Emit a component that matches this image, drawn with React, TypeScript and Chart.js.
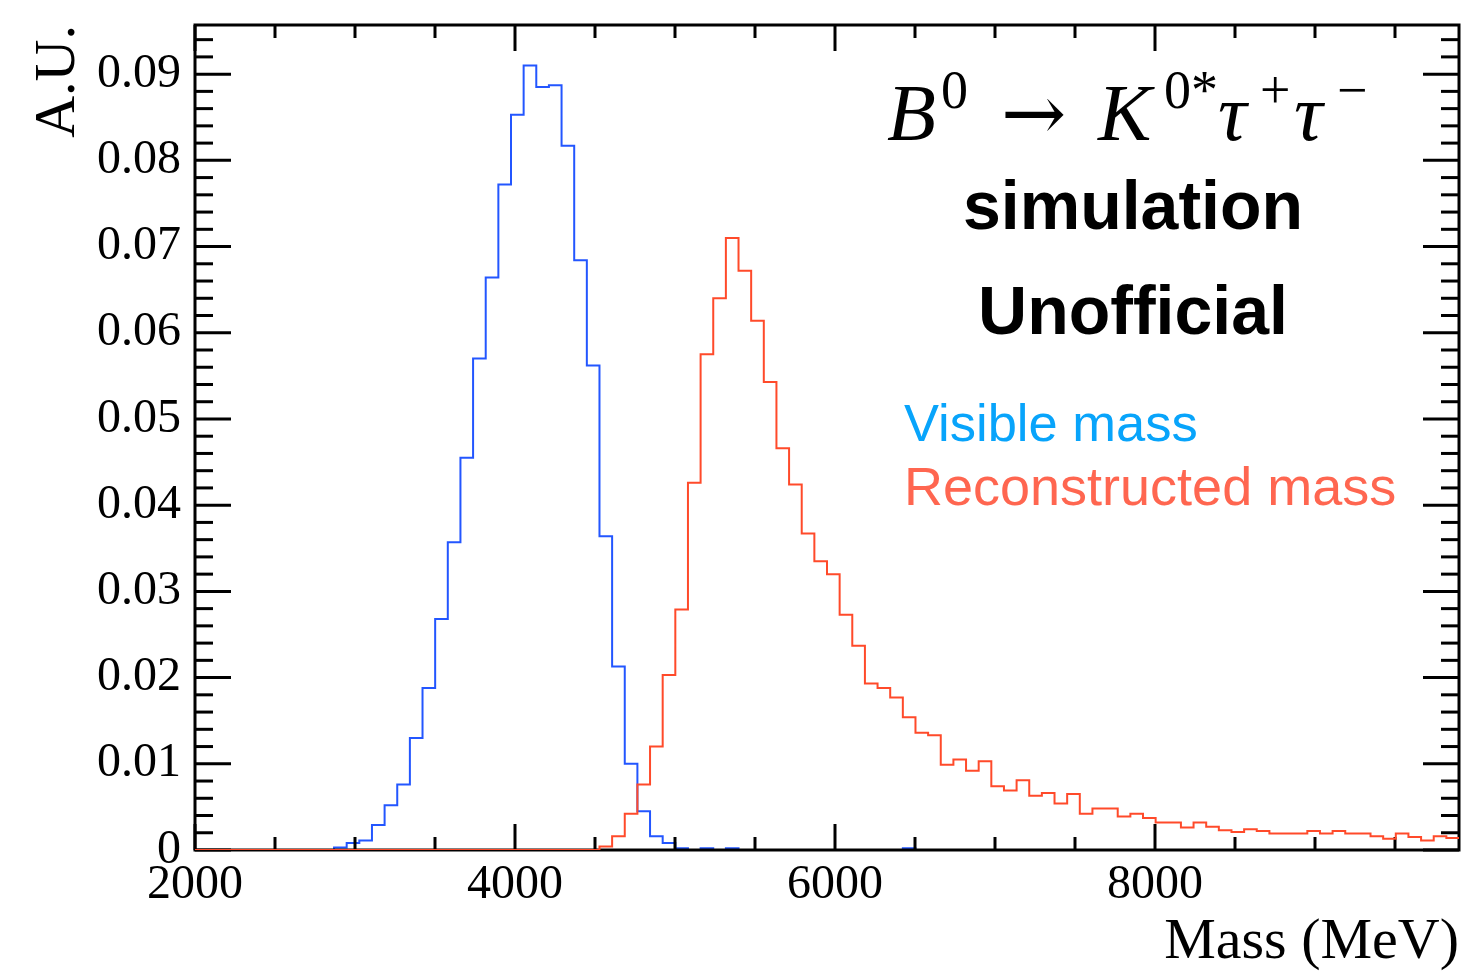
import React, { useEffect, useRef } from 'react';
import { Chart, registerables } from 'chart.js';

Chart.register(...registerables);

// Histogram binning (100 bins from 2000 to 9900 MeV)
const BIN_LOW = 2000;
const BIN_WIDTH = 79;
const X_MIN = 2000;
const X_MAX = 9900;
const Y_MIN = 0;
const Y_MAX = 0.0957;

const X_TICKS = [2000, 4000, 6000, 8000];
const X_TICK_LABELS = ['2000', '4000', '6000', '8000'];
const Y_TICKS = [0, 0.01, 0.02, 0.03, 0.04, 0.05, 0.06, 0.07, 0.08, 0.09];
const Y_TICK_LABELS = ['0', '0.01', '0.02', '0.03', '0.04', '0.05', '0.06', '0.07', '0.08', '0.09'];

const X_TITLE = 'Mass (MeV)';
const Y_TITLE = 'A.U.';
const SERIES_NAMES = ['Visible mass', 'Reconstructed mass'];

// Visible mass, bins 0..99
const VISIBLE_MASS = [
  0, 0, 0, 0, 0, 0, 0, 0, 0, 0,
  0, 0.0003, 0.0008, 0.0011, 0.0029, 0.0052, 0.0076, 0.0130, 0.0188, 0.0268,
  0.0357, 0.0455, 0.0570, 0.0664, 0.0772, 0.0853, 0.0910, 0.0885, 0.0887, 0.0817,
  0.0684, 0.0562, 0.0364, 0.0213, 0.0100, 0.0045, 0.0016, 0.0008, 0.0002, 0,
  0.0002, 0, 0.0002, 0, 0, 0, 0, 0, 0, 0,
  0, 0, 0, 0, 0, 0, 0.0002, 0, 0, 0,
  0, 0, 0, 0, 0, 0, 0, 0, 0, 0,
  0, 0, 0, 0, 0, 0, 0, 0, 0, 0,
  0, 0, 0, 0, 0, 0, 0, 0, 0, 0,
  0, 0, 0, 0, 0, 0, 0, 0, 0, 0,
];

// Reconstructed mass, bins 0..99
const RECO_MASS = [
  0, 0, 0, 0, 0, 0, 0, 0, 0, 0,
  0, 0, 0, 0, 0, 0, 0, 0, 0, 0,
  0, 0, 0, 0, 0, 0, 0, 0, 0, 0,
  0, 0, 0.0004, 0.0016, 0.0042, 0.0076, 0.0120, 0.0203, 0.0279, 0.0426,
  0.0575, 0.0640, 0.0710, 0.0672, 0.0614, 0.0543, 0.0466, 0.0424, 0.0367, 0.0335,
  0.0320, 0.0273, 0.0237, 0.0193, 0.0188, 0.0177, 0.0154, 0.0136, 0.0133, 0.0099,
  0.0105, 0.0092, 0.0103, 0.0074, 0.0069, 0.0081, 0.0063, 0.0066, 0.0054, 0.0065,
  0.0042, 0.0048, 0.0048, 0.0039, 0.0042, 0.0037, 0.0032, 0.0032, 0.0026, 0.0032,
  0.0027, 0.0023, 0.0021, 0.0024, 0.0022, 0.0019, 0.0019, 0.0019, 0.0022, 0.0019,
  0.0022, 0.0019, 0.0019, 0.0016, 0.0013, 0.0019, 0.0015, 0.0011, 0.0016, 0.0014,
];

const BLUE = '#2356ff';
const RED = '#ff4a2a';
const SERIF = '"Liberation Serif", "Times New Roman", serif';
const SANS = '"Liberation Sans", Arial, Helvetica, sans-serif';

function toSteps(values: number[]) {
  const pts = values.map((v, i) => ({ x: BIN_LOW + i * BIN_WIDTH, y: v }));
  pts.push({ x: BIN_LOW + values.length * BIN_WIDTH, y: values[values.length - 1] });
  return pts;
}

function drawFrame(chart: any) {
  const { ctx, chartArea, scales } = chart;
  const { left, right, top, bottom } = chartArea;
  const xs = scales.x;
  const ys = scales.y;
  ctx.save();
  ctx.strokeStyle = '#000';
  ctx.lineWidth = 3;
  ctx.lineCap = 'butt';
  const seg = (x1: number, y1: number, x2: number, y2: number) => {
    ctx.beginPath();
    ctx.moveTo(x1, y1);
    ctx.lineTo(x2, y2);
    ctx.stroke();
  };
  for (let v = X_MIN; v <= X_MAX; v += 500) {
    const px = xs.getPixelForValue(v);
    const len = v % 2000 === 0 ? 26 : 13;
    seg(px, bottom, px, bottom - len);
    seg(px, top, px, top + len);
  }
  for (let i = 0; i * 0.002 <= Y_MAX; i++) {
    const py = ys.getPixelForValue(i * 0.002);
    const len = i % 5 === 0 ? 36 : 18;
    seg(left, py, left + len, py);
    seg(right, py, right - len, py);
  }
  ctx.strokeRect(left, top, right - left, bottom - top);
  ctx.restore();
}

function drawAnnotations(chart: any) {
  const { ctx } = chart;
  ctx.save();
  ctx.textBaseline = 'alphabetic';
  ctx.textAlign = 'left';
  ctx.fillStyle = '#000';
  const it = `italic 80px ${SERIF}`;
  const arrow = `78px "DejaVu Serif", ${SERIF}`;
  const sup = `54px ${SERIF}`;
  const base = 140;
  const supBase = 108;
  const put = (t: string, font: string, x: number, y: number) => {
    ctx.font = font;
    ctx.fillText(t, x, y);
  };
  put('B', it, 887, base);
  put('0', sup, 941, supBase);
  put('\u2192', arrow, 1001, base);
  put('K', it, 1098, base);
  put('0*', sup, 1164, supBase);
  put('\u03c4', it, 1218, base);
  put('+', sup, 1260, supBase);
  put('\u03c4', it, 1294, base);
  put('\u2212', sup, 1337, supBase);

  ctx.textAlign = 'center';
  ctx.font = `bold 68px ${SANS}`;
  ctx.fillText('simulation', 1133, 229);
  ctx.fillText('Unofficial', 1133, 334);

  ctx.textAlign = 'left';
  ctx.font = `52.5px ${SANS}`;
  ctx.fillStyle = '#08a4fb';
  ctx.fillText(SERIES_NAMES[0], 904, 441);
  ctx.font = `54px ${SANS}`;
  ctx.fillStyle = '#ff6650';
  ctx.fillText(SERIES_NAMES[1], 904, 505);
  ctx.restore();
}

const rootStylePlugin = {
  id: 'rootStyle',
  afterDatasetDraw(chart: any, args: any) {
    if (args.index === 1) drawFrame(chart);
  },
  afterDraw(chart: any) {
    drawAnnotations(chart);
  },
};

export default function App() {
  const ref = useRef<HTMLCanvasElement | null>(null);
  useEffect(() => {
    if (!ref.current) return;
    const chart = new Chart(ref.current, {
      type: 'line',
      data: {
        datasets: [
          {
            label: SERIES_NAMES[1],
            data: toSteps(RECO_MASS),
            borderColor: RED,
            borderWidth: 2,
            pointRadius: 0,
            stepped: 'before',
            fill: false,
          },
          {
            label: SERIES_NAMES[0],
            data: toSteps(VISIBLE_MASS),
            borderColor: BLUE,
            borderWidth: 2,
            pointRadius: 0,
            stepped: 'before',
            fill: false,
          },
        ],
      },
      options: {
        animation: false,
        responsive: false,
        devicePixelRatio: 1,
        layout: { padding: { left: 0, top: 25, right: 2, bottom: 0 } },
        plugins: {
          legend: { display: false },
          tooltip: { enabled: false },
        },
        scales: {
          x: {
            type: 'linear',
            min: X_MIN,
            max: X_MAX,
            afterBuildTicks: (s: any) => {
              s.ticks = X_TICKS.map((v) => ({ value: v }));
            },
            afterFit: (s: any) => {
              s.height = 123;
              s.paddingLeft = 0;
              s.paddingRight = 0;
            },
            ticks: {
              autoSkip: false,
              maxRotation: 0,
              padding: 7,
              color: '#000',
              font: { family: SERIF, size: 48, lineHeight: 1.2 },
              callback: (_v: any, i: number) => X_TICK_LABELS[i],
            },
            grid: { display: false, drawTicks: false },
            border: { display: false },
            title: {
              display: true,
              text: X_TITLE,
              align: 'end',
              color: '#000',
              font: { family: SERIF, size: 58, lineHeight: 1 },
              padding: { top: 0, bottom: 1 },
            },
          },
          y: {
            type: 'linear',
            min: Y_MIN,
            max: Y_MAX,
            afterBuildTicks: (s: any) => {
              s.ticks = Y_TICKS.map((v) => ({ value: v }));
            },
            afterFit: (s: any) => {
              s.width = 195;
              s.paddingTop = 0;
              s.paddingBottom = 0;
            },
            ticks: {
              autoSkip: false,
              padding: 14,
              color: '#000',
              font: { family: SERIF, size: 48, lineHeight: 1.2 },
              callback: (_v: any, i: number) => Y_TICK_LABELS[i],
            },
            grid: { display: false, drawTicks: false },
            border: { display: false },
            title: {
              display: true,
              text: Y_TITLE,
              align: 'end',
              color: '#000',
              font: { family: SERIF, size: 58, lineHeight: 1 },
              padding: { top: 30, bottom: 0 },
            },
          },
        },
      } as any,
      plugins: [rootStylePlugin],
    });
    return () => chart.destroy();
  }, []);
  return (
    <div style={{ position: 'absolute', left: 0, top: 0, width: 1461, height: 973, background: '#fff' }}>
      <canvas ref={ref} width={1461} height={973} />
    </div>
  );
}
